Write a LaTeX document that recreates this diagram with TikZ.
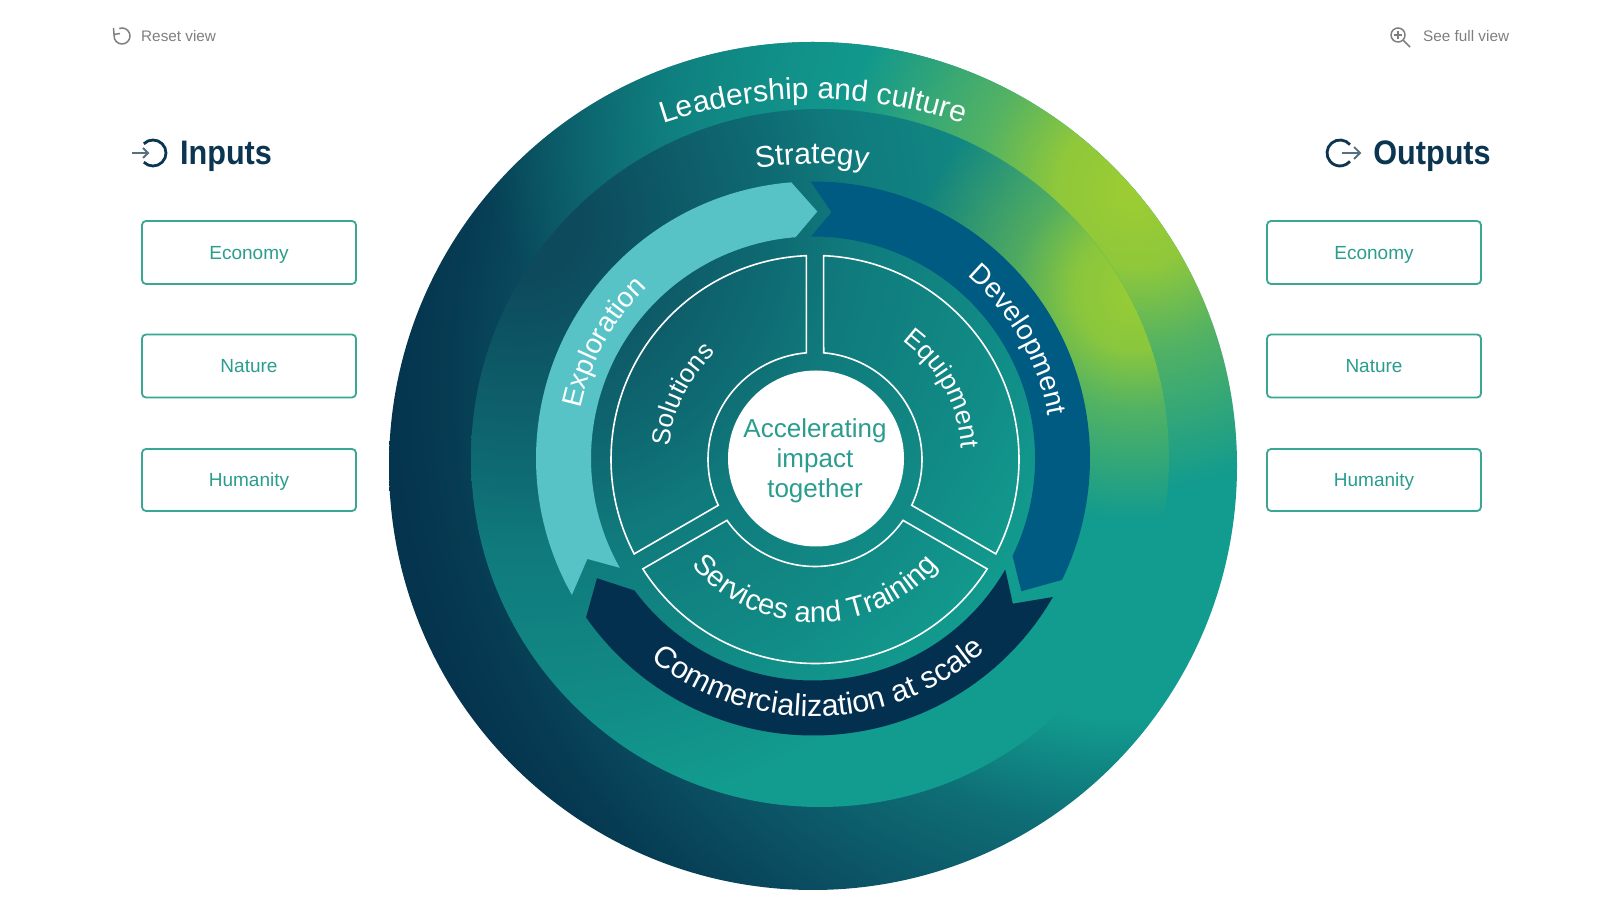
\documentclass[tikz,border=0pt]{standalone}
\usepackage{fontspec}
\setmainfont{Liberation Sans}
\usetikzlibrary{calc,fadings,decorations.text}
\definecolor{oe}{HTML}{129B8F}\definecolor{of}{HTML}{0E6D75}
\definecolor{og}{HTML}{0B5063}\definecolor{oh}{HTML}{063C53}\definecolor{oi}{HTML}{05344E}
\definecolor{sa}{HTML}{0D4A5C}\definecolor{sb}{HTML}{0E6A72}\definecolor{sc}{HTML}{107A7C}
\definecolor{sd}{HTML}{118A85}\definecolor{se}{HTML}{129B8F}
\definecolor{lime}{HTML}{9FCF30}\definecolor{limeout}{HTML}{A5D02D}
\definecolor{explo}{HTML}{57C3C6}\definecolor{devel}{HTML}{005B82}\definecolor{comm}{HTML}{04304F}
\definecolor{tealtext}{HTML}{2A9D8F}\definecolor{boxline}{HTML}{3AA795}\definecolor{navy}{HTML}{0B3550}
\definecolor{greyui}{HTML}{7F7F7F}\definecolor{arrowgrey}{HTML}{55707F}
% 25bp = half the side of the shaded square (1000 px), so 1bp = 40 px
\pgfdeclareradialshading{outerS}{\pgfpointorigin}{color(0bp)=(oe);color(8.5bp)=(oe);color(11.25bp)=(of);color(14.5bp)=(og);color(17bp)=(oh);color(18.5bp)=(oi);color(50bp)=(oi)}
\pgfdeclareradialshading{stratS}{\pgfpointorigin}{color(0bp)=(sa);color(1.5bp)=(sa);color(6.25bp)=(sb);color(8.25bp)=(sc);color(12bp)=(sd);color(15bp)=(se);color(50bp)=(se)}
\pgfdeclareradialshading{limeS}{\pgfpointorigin}{color(0bp)=(transparent!5);color(6.5bp)=(transparent!15);color(13bp)=(transparent!55);color(25bp)=(transparent!100);color(50bp)=(transparent!100)}
\pgfdeclarefading{limeF}{\pgfuseshading{limeS}}
\pgfdeclareradialshading{tealS}{\pgfpointorigin}{color(0bp)=(transparent!5);color(12.5bp)=(transparent!40);color(25bp)=(transparent!100);color(50bp)=(transparent!100)}
\pgfdeclarefading{tealF}{\pgfuseshading{tealS}}
\newcommand{\arclabel}[6]{\path[decorate,decoration={text along path,text align=center,text={|\fontsize{#1}{#1}\selectfont\color{white}|#2}}] ($(#3)+(#4:#6)$) arc[start angle=#4,end angle=#5,radius=#6];}
\tikzset{
 x=1pt,y=1pt,
 valbox/.style={draw=boxline,line width=1.8pt,rounded corners=4pt,minimum width=214pt,minimum height=63pt,inner sep=0pt,text=tealtext,text height=15pt,text depth=1pt,font=\fontsize{19}{19}\selectfont},
 headtext/.style={text=navy,inner sep=0pt,xscale=.9,font=\fontsize{34}{34}\selectfont\bfseries},
 uitext/.style={text=greyui,inner sep=0pt,anchor=west,font=\fontsize{15.3}{15.3}\selectfont},
 segline/.style={draw=white,line width=1.6pt,line join=miter},
 uiline/.style={draw=greyui,line width=1.5pt},
 iconline/.style={draw=navy,line width=2.8pt},
 arrowline/.style={draw=arrowgrey,line width=1.8pt}
}
\begin{document}
\begin{tikzpicture}
\useasboundingbox (0,0) rectangle (1600,899);
\fill[white] (0,0) rectangle (1600,899);
\coordinate (c) at (815,439.5);
\coordinate (k) at (816,440.5);
\coordinate (a) at (813,440.5);
\coordinate (outc) at (813,433);
\coordinate (strc) at (820,441);
% outer disc
\begin{scope}
\clip (outc) circle[radius=424];
\shade[shading=outerS] (130,-481) rectangle (2130,1519);
\fill[oe,path fading=tealF] ($(880,849)+(-420,-420)$) rectangle ($(880,849)+(420,420)$);
\fill[limeout,path fading=limeF] ($(1135,709)+(-300,-300)$) rectangle ($(1135,709)+(300,300)$);
\end{scope}
% strategy disc
\begin{scope}
\clip (strc) circle[radius=349];
\shade[shading=stratS] (-480,-321) rectangle (1520,1679);
\fill[lime,path fading=limeF] ($(1135,609)+(-230,-230)$) rectangle ($(1135,609)+(230,230)$);
\end{scope}
% inner disc, same colouring as the strategy disc
\begin{scope}
\clip (c) circle[radius=222];
\shade[shading=stratS] (-480,-321) rectangle (1520,1679);
\end{scope}
% process arrows
\fill[explo] ($(a)+(209.5:277)$) arc[start angle=209.5,end angle=94.5,radius=277] -- ($(a)+(89:247)$) -- ($(a)+(94.5:222)$) arc[start angle=94.5,end angle=209.5,radius=222] -- ($(a)+(204:247)$) -- cycle;
\fill[devel] ($(a)+(90.5:277)$) arc[start angle=90.5,end angle=-26,radius=277] -- ($(a)+(-32.5:247)$) -- ($(a)+(-26:222)$) arc[start angle=-26,end angle=90.5,radius=222] -- ($(a)+(85.7:247)$) -- cycle;
\fill[comm] ($(a)+(-30:277)$) arc[start angle=-30,end angle=-145,radius=277] -- ($(a)+(-151:247)$) -- ($(a)+(-143.5:222)$) arc[start angle=-143.5,end angle=-30,radius=222] -- ($(a)+(-36:247)$) -- cycle;
% segments
\draw[segline] ($(c)+(92.43:204)$) arc[start angle=92.43,end angle=207.57,radius=204] -- ($(c)+(205.34:107)$) arc[start angle=205.34,end angle=94.66,radius=107] -- cycle;
\draw[segline] ($(c)+(87.57:204)$) arc[start angle=87.57,end angle=-27.57,radius=204] -- ($(c)+(-25.34:107)$) arc[start angle=-25.34,end angle=85.34,radius=107] -- cycle;
\draw[segline] ($(c)+(212.43:204)$) arc[start angle=212.43,end angle=327.57,radius=204] -- ($(c)+(325.34:107)$) arc[start angle=325.34,end angle=214.66,radius=107] -- cycle;
% centre
\node[circle,fill=white,minimum size=176pt,inner sep=0pt] (core) at (k) {};
\node[text=tealtext,align=center,inner sep=0pt,font=\fontsize{26}{30}\selectfont] (coretext) at (815,438) {Accelerating\\impact\\together};
% curved labels
\coordinate (lc) at (813,330);
\coordinate (sc) at (812,405);
\arclabel{30}{Leadership and culture}{lc}{110}{70}{470}
\arclabel{30}{Strategy}{sc}{105}{75}{330}
\arclabel{28}{Exploration}{a}{171}{131}{238}
\arclabel{28}{Development}{a}{52}{8}{239}
\arclabel{30.5}{Commercialization at scale}{a}{223.5}{319.5}{258}
\arclabel{29}{Services and Training}{c}{215}{325}{163}
\arclabel{26}{Solutions}{c}{185}{123}{146}
\arclabel{26.5}{Equipment}{c}{61}{-3}{147}
% header controls
\draw[uiline] ($(122,863)+(110:8)$) arc[start angle=110,end angle=-190,radius=8];
\draw[uiline] (113.5,871) -- (114,864.5) -- (120,865.5);
\node[uitext] (reset) at (141,863) {Reset view};
\draw[uiline] (1398,864) circle[radius=7];
\draw[uiline] (1403,859) -- (1410,852);
\draw[draw=greyui,line width=1.2pt] (1394,864) -- (1402,864) (1398,860) -- (1398,868);
\node[uitext] (full) at (1423,863) {See full view};
% headings
\draw[iconline] ($(153,746)+(135:13)$) arc[start angle=135,end angle=-135,radius=13];
\draw[arrowline] (132,746) -- (148,746);
\draw[arrowline] (143,751) -- (148,746) -- (143,741);
\node[headtext] (inputs) at (226,743) {Inputs};
\draw[iconline] ($(1340,746)+(40:13)$) arc[start angle=40,end angle=320,radius=13];
\draw[arrowline] (1342,746) -- (1360,746);
\draw[arrowline] (1354,752) -- (1360,746) -- (1354,740);
\node[headtext] (outputs) at (1432,743) {Outputs};
% value boxes
\node[valbox] (ie) at (249,646.5) {Economy};
\node[valbox] (in) at (249,533) {Nature};
\node[valbox,minimum height=62pt] (ih) at (249,419) {Humanity};
\node[valbox] (oute) at (1374,646.5) {Economy};
\node[valbox] (outn) at (1374,533) {Nature};
\node[valbox,minimum height=62pt] (outh) at (1374,419) {Humanity};
\end{tikzpicture}
\end{document}
